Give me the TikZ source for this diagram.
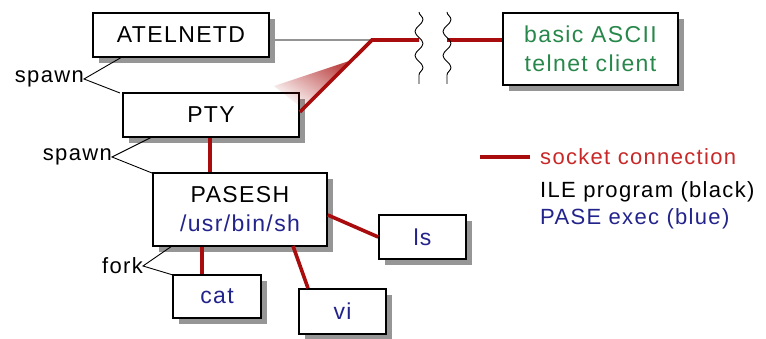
\documentclass[tikz,border=0pt]{standalone}
\usepackage{fontspec}
\setmainfont[LetterSpace=6]{Liberation Sans}
\usetikzlibrary{decorations.pathmorphing,fadings}
\definecolor{sockred}{RGB}{168,12,12}
\definecolor{legred}{RGB}{200,40,40}
\definecolor{cligreen}{RGB}{40,135,75}
\definecolor{pblue}{RGB}{35,35,140}
\definecolor{shadowgray}{RGB}{150,150,150}
\begin{document}
\begin{tikzpicture}[x=1pt,y=-1pt,
  box/.style={draw=black,line width=1.6pt,fill=white,inner sep=0pt,
    font=\fontsize{23}{29}\selectfont,align=center},
  boxshadow/.style={draw=none,fill=shadowgray},
  lbl/.style={inner sep=0pt,font=\fontsize{22}{26}\selectfont},
  sock/.style={draw=sockred,line width=3.6pt},
  thinline/.style={draw=black,line width=0.9pt},
  wave/.style={draw=black,line width=0.9pt,decorate,
    decoration={snake,segment length=24pt,amplitude=4pt}}]
\path[use as bounding box] (0,0) rectangle (766,339);

% offset shadows, drawn first so the boxes sit on top
\path[boxshadow] (99,19) rectangle (275,63);
\path[boxshadow] (129,99) rectangle (305,143);
\path[boxshadow] (159,179) rectangle (333,252);
\path[boxshadow] (385,221) rectangle (472,265);
\path[boxshadow] (179,281) rectangle (267,324);
\path[boxshadow] (305,295) rectangle (392,339);
\path[boxshadow] (509,19) rectangle (684,91);

% process boxes
\node[box,minimum width=176pt,minimum height=44pt] (atel) at (181,35) {ATELNETD};
\node[box,minimum width=176pt,minimum height=44pt] (pty) at (211,115) {PTY};
\node[box,minimum width=174pt,minimum height=73pt] (pasesh) at (240,209.5)
  {PASESH\\{\color{pblue}/usr/bin/sh}};
\node[box,minimum width=87pt,minimum height=44pt,text=pblue] (ls) at (422.5,237) {ls};
\node[box,minimum width=88pt,minimum height=43pt,text=pblue] (cat) at (217,296.5) {cat};
\node[box,minimum width=87pt,minimum height=45pt,text=pblue] (vi) at (342.5,311.5) {vi};
\node[box,minimum width=175pt,minimum height=72pt,text=cligreen] (client) at (590.5,49)
  {basic ASCII\\telnet client};

% faded glow beside the rising socket line
\fill[sockred,path fading=east,fading angle=225,opacity=0.75]
  (352,60) -- (303,109) -- (274,86) -- cycle;

% telnet path with a break in the line
\coordinate (bend) at (372,40);
\coordinate (gapl) at (419,40);
\coordinate (gapr) at (447,40);
\draw[draw=black!42,line width=1.4pt] (atel.east |- bend) -- (bend);
\draw[sock] (pty.east |- 0,112) -- (bend) -- (gapl);
\draw[sock] (gapr) -- (client.west |- gapr);
\draw[wave] (419,12) -- (419,84);
\draw[wave] (447,12) -- (447,84);

% socket links to the shell and its children
\draw[sock] (pty.south -| 210,0) -- (pasesh.north -| 210,0);
\draw[sock] (pasesh.east |- 0,215) -- (ls.west |- 0,237);
\draw[sock] (pasesh.south -| 202,0) -- (cat.north -| 202,0);
\draw[sock] (293,246) -- (vi.north -| 308,0);

% spawn / fork labels
\node[lbl,anchor=east] (sp1) at (84,79) {spawn};
\draw[thinline] (122,57) -- (sp1.east) -- (120,93);
\node[lbl,anchor=east] (sp2) at (112,157) {spawn};
\draw[thinline] (152,137) -- (sp2.east) -- (152,173);
\node[lbl,anchor=east] (fk) at (143,266) {fork};
\draw[thinline] (172,246) -- (fk.east) -- (173,275);

% legend
\coordinate (legA) at (480,157);
\coordinate (legB) at (530,157);
\draw[sock] (legA) -- (legB);
\node[lbl,anchor=west,text=legred] (leg1) at (540,157) {socket connection};
\node[lbl,anchor=west] (leg2) at (540,192) {ILE program (black)};
\node[lbl,anchor=west,text=pblue] (leg3) at (540,219) {PASE exec (blue)};
\end{tikzpicture}
\end{document}
